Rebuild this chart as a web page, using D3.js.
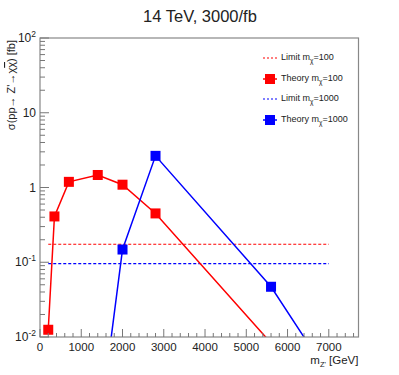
<!DOCTYPE html>
<html><head><meta charset="utf-8">
<script src="https://cdn.jsdelivr.net/npm/d3@7"></script>
<style>body{margin:0;background:#fff}text{font-family:"Liberation Sans",Arial,sans-serif}</style>
</head><body>
<svg id="c" width="399" height="375"></svg>
<script>
const massTheory100 = [200, 350, 700, 1400, 2000, 2800, 5600];
const sigmaTheory100 = [0.0125, 0.41, 1.19, 1.47, 1.09, 0.45, 0.0083];
const massTheory1000 = [1400, 2000, 2800, 5600, 7000];
const sigmaTheory1000 = [0.0004, 0.148, 2.65, 0.047, 0.0031];
const limitRange = [200, 7000];
const limit100 = 0.174;
const limit1000 = 0.096;
const xTicks = [0, 1000, 2000, 3000, 4000, 5000, 6000, 7000];
const yTicks = [0.01, 0.1, 1, 10, 100];
const yTickLabels = [["10","-2"],["10","-1"],["1",""],["10",""],["10","2"]];

const svg = d3.select("#c");
const L = 40, R = 358.5, T = 38, B = 337;
const x = d3.scaleLinear().domain([0, 7720]).range([L, R]);
const y = d3.scaleLog().domain([0.01, 100]).range([B, T]);

svg.append("defs").append("clipPath").attr("id","clip")
  .append("rect").attr("x",L).attr("y",T).attr("width",R-L).attr("height",B-T);

// title
svg.append("text").attr("x",200).attr("y",22).attr("text-anchor","middle")
  .attr("font-size",16.5).attr("fill","#222").text("14 TeV, 3000/fb");

const plot = svg.append("g").attr("clip-path","url(#clip)");

function limitLine(v, col){
  plot.append("line").attr("x1",x(limitRange[0])).attr("x2",x(limitRange[1]))
    .attr("y1",y(v)).attr("y2",y(v)).attr("stroke",col).attr("stroke-width",1.2)
    .attr("stroke-dasharray","3,2");
}
limitLine(limit100, "#ff0000");
limitLine(limit1000, "#0000ff");

function series(xs, ys, col){
  const pts = xs.map((m,i)=>[m, ys[i]]);
  const line = d3.line().x(d=>x(d[0])).y(d=>y(d[1]));
  plot.append("path").datum(pts).attr("d",line).attr("fill","none")
    .attr("stroke",col).attr("stroke-width",1.5);
  plot.selectAll(null).data(pts).enter().append("rect")
    .attr("x",d=>x(d[0])-5).attr("y",d=>y(d[1])-5).attr("width",10).attr("height",10)
    .attr("fill",col);
}
series(massTheory100, sigmaTheory100, "#ff0000");
series(massTheory1000, sigmaTheory1000, "#0000ff");

// frame
svg.append("rect").attr("x",L).attr("y",T).attr("width",R-L).attr("height",B-T)
  .attr("fill","none").attr("stroke","#888").attr("stroke-width",1.2);

const axC = "#777";
const xMinor = d3.range(0, 7720, 200);
svg.selectAll(null).data(xMinor).enter().append("line")
  .attr("x1",d=>x(d)).attr("x2",d=>x(d)).attr("y1",B)
  .attr("y2",d=>d%1000===0?B-8:B-4).attr("stroke",axC).attr("stroke-width",1);
svg.selectAll(null).data(xTicks).enter().append("text")
  .attr("x",d=>x(d)).attr("y",B+13.5).attr("text-anchor","middle")
  .attr("font-size",11.5).attr("fill","#222").text(d=>d);

const yMinor = [];
for (let e=-2; e<2; e++) for (let k=1;k<10;k++) yMinor.push(k*Math.pow(10,e));
yMinor.push(100);
svg.selectAll(null).data(yMinor).enter().append("line")
  .attr("x1",L).attr("x2",d=>{const l=Math.log10(d);return Math.abs(l-Math.round(l))<1e-9?L+9:L+5;})
  .attr("y1",d=>y(d)).attr("y2",d=>y(d)).attr("stroke",axC).attr("stroke-width",1);
yTicks.forEach((v,i)=>{
  const t = svg.append("text").attr("x",36).attr("y",y(v)+4).attr("text-anchor","end")
    .attr("font-size",12).attr("fill","#222");
  t.append("tspan").text(yTickLabels[i][0]);
  if (yTickLabels[i][1]) t.append("tspan").attr("dy",-5).attr("font-size",8.5).text(yTickLabels[i][1]);
});

// y label
const yl = svg.append("text").attr("transform","translate(15,40) rotate(-90)")
  .attr("text-anchor","end").attr("font-size",11).attr("fill","#222");
yl.append("tspan").text("σ(pp→ Z'→χ");
yl.append("tspan").attr("text-decoration","overline").text("χ");
yl.append("tspan").text(") [fb]");

// x label
const xl = svg.append("text").attr("x",R).attr("y",364).attr("text-anchor","end")
  .attr("font-size",11.5).attr("fill","#222");
xl.append("tspan").text("m");
xl.append("tspan").attr("dy",3).attr("font-size",7.5).text("Z'");
xl.append("tspan").attr("dy",-3).text(" [GeV]");

// legend
const leg = [
  {t:"Limit", v:"=100", c:"#ff0000", mark:false, y:58},
  {t:"Theory", v:"=100", c:"#ff0000", mark:true, y:79},
  {t:"Limit", v:"=1000", c:"#0000ff", mark:false, y:99},
  {t:"Theory", v:"=1000", c:"#0000ff", mark:true, y:120}
];
leg.forEach(d=>{
  if (d.mark) {
    svg.append("line").attr("x1",263).attr("x2",277).attr("y1",d.y).attr("y2",d.y)
      .attr("stroke",d.c).attr("stroke-width",1.5);
    svg.append("rect").attr("x",265).attr("y",d.y-5).attr("width",10).attr("height",10).attr("fill",d.c);
  } else {
    svg.append("line").attr("x1",263).attr("x2",277).attr("y1",d.y).attr("y2",d.y)
      .attr("stroke",d.c).attr("stroke-width",1.2).attr("stroke-dasharray","2,2");
  }
  const t = svg.append("text").attr("x",281).attr("y",d.y+2).attr("font-size",9).attr("fill","#222");
  t.append("tspan").text(d.t+" m");
  t.append("tspan").attr("dy",3).attr("font-size",6.5).text("χ");
  t.append("tspan").attr("dy",-3).text(d.v);
});
</script>
</body></html>
